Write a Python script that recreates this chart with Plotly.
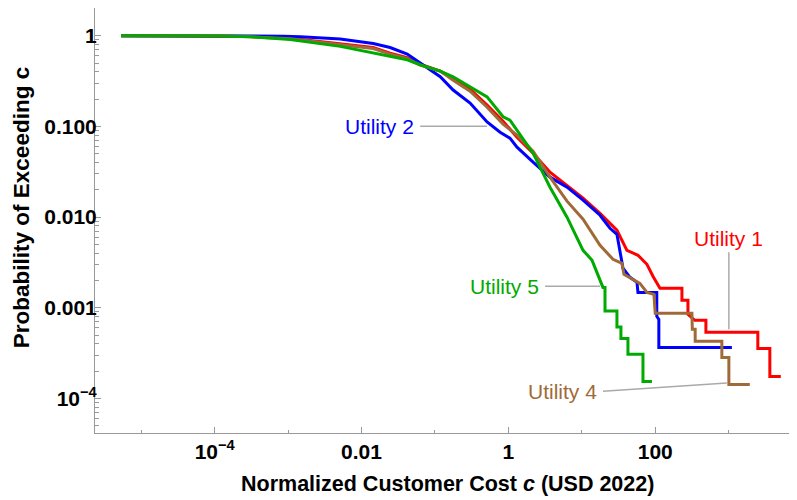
import numpy as np
import plotly.graph_objects as go

u1_cost = [5.33e-6, 1.09e-4, 3.06e-4, 1.07e-3, 5.13e-3, 0.0144, 0.0245, 0.0419, 0.063, 0.118, 0.177,
           0.301, 0.513, 0.847, 1.31, 2.17, 3.69, 6.29, 10.4, 17.7, 30.1, 41.2, 58.2, 77.1, 93.1, 116,
           231, 231, 279, 279, 347, 490, 490, 2496, 2496, 3639, 3639, 5129]
u1_prob = [1, 0.998, 0.98, 0.936, 0.82, 0.741, 0.644, 0.575, 0.487, 0.408, 0.341,
           0.258, 0.172, 0.114, 0.0762, 0.0507, 0.0313, 0.0225, 0.0162, 0.0110, 0.00717, 0.00431, 0.00380,
           0.00302, 0.00223, 0.00164,
           0.00164, 0.00121, 0.00121, 8.48e-4, 7.28e-4, 7.28e-4, 5.37e-4, 5.37e-4, 3.57e-4, 3.57e-4,
           1.75e-4, 1.75e-4]

u2_cost = [5.33e-6, 1.09e-4, 8.6e-4, 1.47e-3, 5.13e-3, 0.0144, 0.0245, 0.0419, 0.063, 0.118, 0.177,
           0.301, 0.513, 0.771, 1.05, 1.31, 2.17, 3.69, 6.29, 10.4, 17.7, 24.2, 30.1, 33.1, 36.4, 45.3,
           56.4, 58.2, 105, 105, 112, 112, 1106]
u2_prob = [1, 1, 0.99, 0.972, 0.92, 0.82, 0.741, 0.628, 0.496, 0.353, 0.252,
           0.181, 0.112, 0.0865, 0.0743, 0.0591, 0.0404, 0.0276, 0.0214, 0.0154, 0.0105, 0.00754, 0.00647,
           0.00431, 0.00273, 0.00217, 0.00191, 0.00148, 0.00148, 8.05e-4, 7.46e-4, 3.66e-4, 3.66e-4]

u4_cost = [5.33e-6, 1.09e-4, 3.06e-4, 1.07e-3, 5.13e-3, 0.0144, 0.0245, 0.0419, 0.063, 0.118, 0.177,
           0.301, 0.513, 0.847, 1.31, 2.17, 3.69, 6.29, 10.4, 17.7, 26.6, 35.2, 37.5, 49.8, 61.9, 77.1,
           96.0, 100, 316, 320, 350, 350, 808, 808, 1007, 1007, 1941]
u4_prob = [1, 0.997, 0.975, 0.924, 0.796, 0.722, 0.628, 0.56, 0.475, 0.408, 0.324,
           0.245, 0.163, 0.106, 0.0802, 0.0534, 0.0276, 0.0150, 0.00948, 0.00490, 0.00343, 0.00310,
           0.00234, 0.00206, 0.00186, 0.00148, 0.00141,
           8.69e-4, 8.69e-4, 5.79e-4, 5.79e-4, 4.27e-4, 4.27e-4, 2.84e-4, 2.84e-4, 1.43e-4, 1.43e-4]

u5_cost = [5.33e-6, 1.09e-4, 3.06e-4, 1.07e-3, 5.13e-3, 0.0144, 0.0245, 0.0419, 0.063, 0.118, 0.177,
           0.301, 0.513, 0.847, 1.05, 2.17, 3.69, 6.29, 10.4, 13.8, 17.7, 19.4, 20.7, 20.7, 30.1, 30.1,
           34.1, 34.1, 42.5, 42.5, 68.1, 68.1, 90.2]
u5_prob = [1, 0.995, 0.972, 0.908, 0.764, 0.644, 0.593, 0.544, 0.479, 0.408, 0.353,
           0.273, 0.212, 0.128, 0.117, 0.0507, 0.0214, 0.00998, 0.00431, 0.00334, 0.00201, 0.00168,
           0.00168, 9.2e-4, 9.2e-4, 6.15e-4,
           6.15e-4, 4.6e-4, 4.6e-4, 3.08e-4, 3.08e-4, 1.54e-4, 1.54e-4]

series = [
    ("Utility 1", u1_cost, u1_prob, "#FF0000"),
    ("Utility 2", u2_cost, u2_prob, "#0000FF"),
    ("Utility 4", u4_cost, u4_prob, "#A06A38"),
    ("Utility 5", u5_cost, u5_prob, "#00AA00"),
]

# callout labels: text, colour, leader line xs, leader line ys, text anchor x, y, xanchor, yanchor
callouts = [
    ("Utility 2", "#0000FF", [0.063, 0.513], [0.1007, 0.1007], 0.063, 0.1007, "right", "middle"),
    ("Utility 1", "#FF0000", [1007, 1007], [0.0041, 5.8e-4], 1007, 0.0041, "center", "bottom"),
    ("Utility 5", "#00AA00", [3.16, 17.7], [0.00173, 0.00173], 3.16, 0.00173, "right", "middle"),
    ("Utility 4", "#A06A38", [19.4, 946], [1.2e-4, 1.48e-4], 19.4, 1.2e-4, "right", "middle"),
]

fig = go.Figure()

for c in callouts:
    fig.add_trace(go.Scatter(x=c[2], y=c[3], mode="lines", line=dict(color="#AAAAAA", width=1.5),
                             showlegend=False, hoverinfo="skip"))

for name, xs, ys, col in series:
    fig.add_trace(go.Scatter(x=xs, y=ys, mode="lines", name=name,
                             line=dict(color=col, width=3), showlegend=False))

for text, col, lx, ly, ax, ay, xa, ya in callouts:
    fig.add_annotation(x=np.log10(ax), y=np.log10(ay), text=text, showarrow=False,
                       xanchor=xa, yanchor=ya, xshift=-4 if xa == "right" else 0,
                       font=dict(family="Liberation Sans, Arial, sans-serif", size=21, color=col))

axis_font = dict(family="Liberation Sans, Arial, sans-serif", size=21, color="black")
y_minor = [m * 10.0 ** k for k in range(-5, 1) for m in range(2, 10)]

fig.update_xaxes(type="log", range=[-5.63, 3.89], showline=True, linecolor="#999999", linewidth=1,
                 showgrid=False, zeroline=False, ticks="inside", ticklen=6, tickcolor="#999999",
                 automargin=False,
                 tickvals=[1e-4, 1e-2, 1, 100],
                 ticktext=["<b>10<sup>−4</sup></b>", "<b>0.01</b>", "<b>1</b>", "<b>100</b>"],
                 tickfont=axis_font,
                 minor=dict(tickmode="array", tickvals=[1e-5, 1e-3, 0.1, 10, 1000], ticks="inside",
                            ticklen=3.5, tickcolor="#999999", showgrid=False))
fig.update_yaxes(type="log", range=[-4.38, 0.306], showline=True, linecolor="#999999", linewidth=1,
                 showgrid=False, zeroline=False, ticks="inside", ticklen=6, tickcolor="#999999",
                 automargin=False, ticklabelstandoff=-7,
                 tickvals=[1e-4, 1e-3, 1e-2, 0.1, 1],
                 ticktext=["<b>10<sup>−4</sup></b>", "<b>0.001</b>", "<b>0.010</b>", "<b>0.100</b>", "<b>1</b>"],
                 tickfont=axis_font,
                 minor=dict(tickmode="array", tickvals=y_minor, ticks="inside",
                            ticklen=3.5, tickcolor="#999999", showgrid=False))

# axis titles as annotations so they can sit where the reference puts them
fig.add_annotation(xref="paper", yref="paper", x=0.504, y=0, yshift=-51, yanchor="middle",
                   text="<b>Normalized Customer Cost <i>c</i> (USD 2022)</b>", showarrow=False,
                   font=dict(family="Liberation Sans, Arial, sans-serif", size=21.5, color="black"))
fig.add_annotation(xref="paper", yref="paper", x=0, xshift=-74, y=0.529, xanchor="center", yanchor="middle",
                   textangle=-90, text="<b>Probability of Exceeding c</b>", showarrow=False,
                   font=dict(family="Liberation Sans, Arial, sans-serif", size=22.5, color="black"))

# the page body keeps its 8px default margin, so the figure is sized to land where the reference sits
fig.update_layout(width=789, height=492, margin=dict(l=86.5, r=3, t=0, b=67.3),
                  plot_bgcolor="white", paper_bgcolor="white", showlegend=False)

fig.write_html("out.html")
